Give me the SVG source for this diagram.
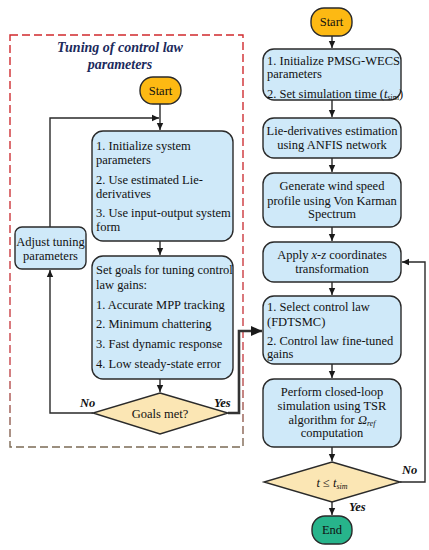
<svg xmlns="http://www.w3.org/2000/svg" width="429" height="550" viewBox="0 0 429 550">
<defs>
<marker id="ah" markerWidth="8" markerHeight="8" refX="7" refY="4" orient="auto" markerUnits="userSpaceOnUse">
<path d="M0,0.8 L7,4 L0,7.2 Z" fill="#1a1a1a"/>
</marker>
<marker id="ahb" markerWidth="12" markerHeight="12" refX="11" refY="6" orient="auto" markerUnits="userSpaceOnUse">
<path d="M0,1 L11,6 L0,11 Z" fill="#1a1a1a"/>
</marker>
<linearGradient id="dg" x1="0" y1="35" x2="0" y2="447" gradientUnits="userSpaceOnUse">
<stop offset="0" stop-color="#d0282c"/>
<stop offset="0.8" stop-color="#c8444a"/>
<stop offset="1" stop-color="#7a6a55"/>
</linearGradient>
</defs>
<style>
.box{fill:#cfe9f9;stroke:#2a2a2a;stroke-width:1.4}
.term{fill:#fdb913;stroke:#2a2a2a;stroke-width:1.4}
.endt{fill:#27b48b;stroke:#2a2a2a;stroke-width:1.4}
.dec{fill:#fbe6b4;stroke:#2a2a2a;stroke-width:1.4}
.t{font-family:'Liberation Serif','Times New Roman',serif;font-size:12.5px;fill:#111}
.c{text-anchor:middle}
.lbl{font-family:'Liberation Serif','Times New Roman',serif;font-size:12.5px;font-weight:bold;font-style:italic;fill:#111}
.title{font-family:'Liberation Serif','Times New Roman',serif;font-size:14px;font-weight:bold;font-style:italic;fill:#1b2a5c;text-anchor:middle}
.ln{fill:none;stroke:#2a2a2a;stroke-width:1.4}
.lnb{fill:none;stroke:#333;stroke-width:2.6}
</style>
<rect width="429" height="550" fill="#ffffff"/>

<rect x="10" y="35" width="233" height="412" fill="none" stroke="url(#dg)" stroke-width="1.4" stroke-dasharray="8,4"/>
<text class="title" x="120" y="52">Tuning of control law</text>
<text class="title" x="120" y="69">parameters</text>

<g id="connectors">
<path class="ln" d="M160,104 V130" marker-end="url(#ah)"/>
<path class="ln" d="M50,227 V118 H159" marker-end="url(#ah)"/>
<path class="ln" d="M160,241 V255" marker-end="url(#ah)"/>
<path class="ln" d="M160,379 V392" marker-end="url(#ah)"/>
<path class="ln" d="M93,413 H50 V270" marker-end="url(#ah)"/>
<path class="lnb" d="M228,413 H239 V331 H262" marker-end="url(#ahb)"/>
<path class="ln" d="M332,36 V48" marker-end="url(#ah)"/>
<path class="ln" d="M332,100 V117" marker-end="url(#ah)"/>
<path class="ln" d="M332,158 V172" marker-end="url(#ah)"/>
<path class="ln" d="M332,227 V241" marker-end="url(#ah)"/>
<path class="ln" d="M332,282 V295" marker-end="url(#ah)"/>
<path class="ln" d="M332,364 V378" marker-end="url(#ah)"/>
<path class="ln" d="M332,447 V461" marker-end="url(#ah)"/>
<path class="ln" d="M400,482 H425 V262 H402" marker-end="url(#ah)"/>
<path class="ln" d="M332,502 V515" marker-end="url(#ah)"/>
<text class="lbl" x="80" y="407">No</text>
<text class="lbl" x="214" y="407">Yes</text>
<text class="lbl" x="402" y="474">No</text>
<text class="lbl" x="349" y="511">Yes</text>
</g>

<g id="start1">
<rect class="term" x="140" y="77" width="41" height="27" rx="13"/>
<text class="t c" x="160.5" y="95">Start</text>
</g>

<g id="box1">
<rect class="box" x="92" y="131" width="141" height="110" rx="11"/>
<text class="t" x="96" y="150">1. Initialize system</text>
<text class="t" x="96" y="164">parameters</text>
<text class="t" x="96" y="184">2. Use estimated Lie-</text>
<text class="t" x="96" y="198">derivatives</text>
<text class="t" x="96" y="217">3. Use input-output system</text>
<text class="t" x="96" y="231">form</text>
</g>

<g id="box2">
<rect class="box" x="92" y="256" width="141" height="123" rx="11"/>
<text class="t" x="96" y="274">Set goals for tuning control</text>
<text class="t" x="96" y="289">law gains:</text>
<text class="t" x="96" y="309">1. Accurate MPP tracking</text>
<text class="t" x="96" y="328">2. Minimum chattering</text>
<text class="t" x="96" y="348">3. Fast dynamic response</text>
<text class="t" x="96" y="368">4. Low steady-state error</text>
</g>

<g id="adjust">
<rect class="box" x="15" y="227" width="71" height="42" rx="7"/>
<text class="t c" x="50.5" y="246">Adjust tuning</text>
<text class="t c" x="50.5" y="260">parameters</text>
</g>

<g id="goals">
<polygon class="dec" points="160,393 228,413 160,434 93,413"/>
<text class="t c" x="160" y="418">Goals met?</text>
</g>

<g id="start2">
<rect class="term" x="311" y="8" width="41" height="28" rx="13"/>
<text class="t c" x="331.5" y="26">Start</text>
</g>

<g id="r1">
<rect class="box" x="263" y="49" width="138" height="51" rx="11"/>
<text class="t" x="267" y="65">1. Initialize PMSG-WECS</text>
<text class="t" x="267" y="78">parameters</text>
<text class="t" x="267" y="98">2. Set simulation time (<tspan font-style="italic">t</tspan><tspan font-size="8" dy="2">sim</tspan><tspan dy="-2">)</tspan></text>
</g>

<g id="r2">
<rect class="box" x="263" y="118" width="138" height="40" rx="11"/>
<text class="t c" x="332" y="135">Lie-derivatives estimation</text>
<text class="t c" x="332" y="149">using ANFIS network</text>
</g>

<g id="r3">
<rect class="box" x="263" y="173" width="138" height="54" rx="11"/>
<text class="t c" x="332" y="190">Generate wind speed</text>
<text class="t c" x="332" y="205">profile using Von Karman</text>
<text class="t c" x="332" y="218">Spectrum</text>
</g>

<g id="r4">
<rect class="box" x="263" y="242" width="138" height="40" rx="11"/>
<text class="t c" x="332" y="259">Apply <tspan font-style="italic">x-z</tspan> coordinates</text>
<text class="t c" x="332" y="273">transformation</text>
</g>

<g id="r5">
<rect class="box" x="263" y="296" width="138" height="68" rx="11"/>
<text class="t" x="267" y="311">1. Select control law</text>
<text class="t" x="267" y="326">(FDTSMC)</text>
<text class="t" x="267" y="345">2. Control law fine-tuned</text>
<text class="t" x="267" y="358">gains</text>
</g>

<g id="r6">
<rect class="box" x="263" y="379" width="138" height="68" rx="11"/>
<text class="t c" x="332" y="396">Perform closed-loop</text>
<text class="t c" x="332" y="410">simulation using TSR</text>
<text class="t c" x="332" y="424">algorithm for <tspan font-style="italic">Ω</tspan><tspan font-style="italic" font-size="8" dy="2">ref</tspan></text>
<text class="t c" x="332" y="437">computation</text>
</g>

<g id="cond">
<polygon class="dec" points="332,462 400,482 332,502 264,482"/>
<text class="t c" x="332" y="487"><tspan font-style="italic">t</tspan> ≤ <tspan font-style="italic">t</tspan><tspan font-style="italic" font-size="8" dy="2">sim</tspan></text>
</g>

<g id="end">
<rect class="endt" x="312" y="516" width="40" height="28" rx="13"/>
<text class="t c" x="332" y="534">End</text>
</g>
</svg>
